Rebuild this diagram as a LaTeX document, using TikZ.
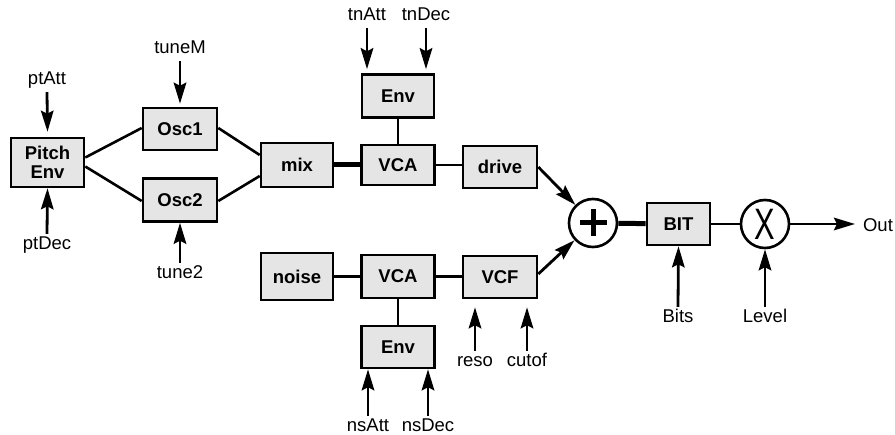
\documentclass[tikz,border=0pt]{standalone}
\usepackage{fontspec}
\setmainfont{Liberation Sans}
\usetikzlibrary{arrows.meta,calc}
\begin{document}
\begin{tikzpicture}[x=1pt,y=-1pt,
  blk/.style={draw,line width=2.6pt,fill=black!10,font=\fontsize{18.5}{19}\selectfont\bfseries,inner sep=2pt,align=center},
  sumc/.style={draw,circle,line width=2.6pt,fill=white,minimum size=48pt,inner sep=0pt},
  lbl/.style={font=\fontsize{18.5}{20}\selectfont,inner sep=3pt,text height=13pt,text depth=4pt},
  wire/.style={line width=2.6pt},
  thick wire/.style={line width=5pt},
  thin wire/.style={line width=2pt},
  arr/.style={line width=2.8pt,-{Stealth[length=21pt,width=12.5pt,inset=3pt]}},
]
\useasboundingbox (0,0) rectangle (895,435);
% blocks
\node[blk,minimum width=73pt,minimum height=49pt] (pitch) at (47.5,162.5) {Pitch\\Env};
\node[blk,minimum width=74pt,minimum height=42pt] (osc1) at (180,129) {Osc1};
\node[blk,minimum width=74pt,minimum height=43pt] (osc2) at (180,200) {Osc2};
\node[blk,minimum width=72pt,minimum height=44pt] (mix) at (297,165) {mix};
\node[blk,minimum width=73pt,minimum height=40pt] (vca1) at (398,165) {VCA};
\node[blk,minimum width=72pt,minimum height=43pt] (env1) at (398,96) {Env};
\node[blk,minimum width=74pt,minimum height=42pt] (drive) at (500,167) {drive};
\node[blk,minimum width=72pt,minimum height=47pt] (noise) at (297,276.5) {noise};
\node[blk,minimum width=73pt,minimum height=43pt] (vca2) at (398,276.5) {VCA};
\node[blk,minimum width=74pt,minimum height=42pt] (vcf) at (500,277) {VCF};
\node[blk,minimum width=73pt,minimum height=42pt] (env2) at (398,347) {Env};
\node[sumc] (plus) at (593,223) {};
\draw[line width=5pt] ($(plus)+(-13.5,0)$) -- ($(plus)+(13.5,0)$) ($(plus)+(0,-13.5)$) -- ($(plus)+(0,13.5)$);
\node[blk,minimum width=63pt,minimum height=42pt] (bit) at (678.5,224) {BIT};
\node[sumc,font=\fontsize{44}{44}\selectfont] (mult) at (765,224) {\scalebox{0.7}[1]{X}};
% labels
\node[lbl] (ptatt) at (47,80.5) {ptAtt};
\node[lbl] (ptdec) at (47,245.5) {ptDec};
\node[lbl] (tunem) at (180,49.5) {tuneM};
\node[lbl] (tune2) at (180,274.5) {tune2};
\node[lbl] (tnatt) at (367,16.5) {tnAtt};
\node[lbl] (tndec) at (426,16.5) {tnDec};
\node[lbl] (nsatt) at (368,427.5) {nsAtt};
\node[lbl] (nsdec) at (428,427.5) {nsDec};
\node[lbl] (reso) at (475,362.5) {reso};
\node[lbl] (cutof) at (527,362.5) {cutof};
\node[lbl] (bits) at (678,318.5) {Bits};
\node[lbl] (level) at (765,318.5) {Level};
\node[lbl] (out) at (878,227.5) {Out};
\coordinate (outend) at (855,224);
% wires
\draw[wire] ($(pitch.east)+(0,-5)$) -- ($(osc1.west)+(0,-1)$);
\draw[wire] ($(pitch.east)+(0,4)$) -- ($(osc2.west)+(0,1)$);
\draw[wire] ($(osc1.east)+(0,-1)$) -- ($(mix.west)+(0,-10)$);
\draw[wire] ($(osc2.east)+(0,1)$) -- ($(mix.west)+(0,11)$);
\draw[thick wire] (mix) -- (vca1);
\draw[thin wire] (vca1) -- (vca1 -| drive.west);
\draw[wire] (env1) -- (vca1);
\draw[wire] (noise) -- (vca2);
\draw[wire] (vca2) -- (vca2 -| vcf.west);
\draw[wire] (vca2) -- (env2);
\draw[arr] (drive.east) -- (plus);
\draw[arr] ($(vcf.east)+(0,-3)$) -- (plus);
\draw[thick wire] (plus) -- (bit);
\draw[wire] (bit) -- (mult);
\draw[arr] (mult) -- (outend);
% control arrows
\draw[arr] (ptatt.south) -- ($(pitch.north)+(0,-5)$);
\draw[arr] (ptdec.north) -- (pitch.south);
\draw[arr] (tunem.south) -- ($(osc1.north)+(0,-3)$);
\draw[arr] (tune2.north) -- (osc2.south);
\draw[arr] (tnatt.south) -- ($(tnatt.south |- env1.north)+(0,-4)$);
\draw[arr] (tndec.south) -- ($(tndec.south |- env1.north)+(0,-4)$);
\draw[arr] (nsatt.north) -- (nsatt.north |- env2.south);
\draw[arr] (nsdec.north) -- (nsdec.north |- env2.south);
\draw[arr] (reso.north) -- ($(reso.north |- vcf.south)+(0,8)$);
\draw[arr] (cutof.north) -- ($(cutof.north |- vcf.south)+(0,8)$);
\draw[arr] (bits.north) -- (bit.south);
\draw[arr] (level.north) -- (mult.south);
\end{tikzpicture}
\end{document}
